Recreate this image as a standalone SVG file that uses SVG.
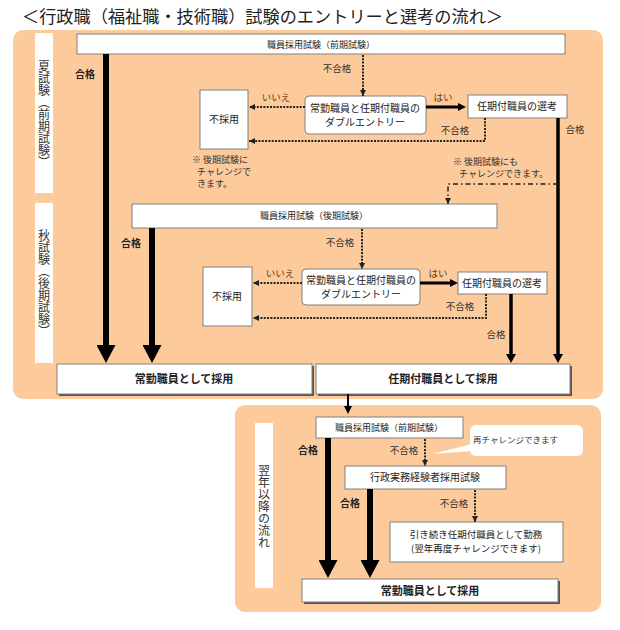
<svg xmlns="http://www.w3.org/2000/svg" width="620" height="630" viewBox="0 0 620 630">
<defs>
<style>
text{font-family:"Noto Sans CJK JP","Noto Sans",sans-serif;fill:#222}
.panel{fill:#FDCA9B}
.strip{fill:#fff}
.box{fill:#fff;stroke:#808080;stroke-width:1}
.shadow{fill:#555}
.t9{font-size:9px;text-anchor:middle}
.t10{font-size:10px;text-anchor:middle}
.tb{font-size:11px;font-weight:bold;text-anchor:middle}
.lbl{font-size:9.5px;text-anchor:middle;fill:#333}
.pass{font-size:10px;font-weight:bold;text-anchor:middle}
.yn{font-size:9.5px;text-anchor:middle;fill:#5a3a22}
.vert{font-size:12px;writing-mode:vertical-rl;text-anchor:middle;fill:#333}
.note{font-size:9px;fill:#333}
.big{stroke:#000;stroke-width:6;fill:none}
.mid{stroke:#000;stroke-width:3.5;fill:none}
.yes{stroke:#000;stroke-width:3;fill:none}
.dot{stroke:#222;stroke-width:2;stroke-dasharray:2 1.3;fill:none}
.dd{stroke:#222;stroke-width:1.5;stroke-dasharray:5 3 1.5 3;fill:none}
</style>
<marker id="mBig" markerUnits="userSpaceOnUse" markerWidth="19" markerHeight="18" viewBox="0 0 19 18" refX="9.5" refY="0" orient="0">
<path d="M0,0 L19,0 L9.5,18 Z" fill="#000"/>
</marker>
<marker id="mMid" markerUnits="userSpaceOnUse" markerWidth="10" markerHeight="9" viewBox="0 0 10 9" refX="5" refY="0" orient="0">
<path d="M0,0 L10,0 L5,9 Z" fill="#000"/>
</marker>
<marker id="mYes" markerUnits="userSpaceOnUse" markerWidth="8" markerHeight="8" viewBox="0 0 8 8" refX="0" refY="4" orient="auto">
<path d="M0,0 L8,4 L0,8 Z" fill="#000"/>
</marker>
<marker id="mDot" markerUnits="userSpaceOnUse" markerWidth="6" markerHeight="6" viewBox="0 0 6 6" refX="6" refY="3" orient="auto">
<path d="M0,0 L6,3 L0,6 Z" fill="#222"/>
</marker>
</defs>

<text x="22" y="23" style="font-size:17px" textLength="481" lengthAdjust="spacingAndGlyphs">＜行政職（福祉職・技術職）試験のエントリーと選考の流れ＞</text>

<g id="panels">
<rect class="panel" x="13" y="30" width="590" height="369" rx="10"/>
<rect class="panel" x="235" y="405" width="366" height="207" rx="10"/>
</g>

<g id="strip-summer">
<rect class="strip" x="35" y="33" width="18" height="160"/>
<text class="vert" x="44" y="114">夏試験（前期試験）</text>
</g>
<g id="strip-autumn">
<rect class="strip" x="35" y="203" width="18" height="160"/>
<text class="vert" x="44" y="283">秋試験（後期試験）</text>
</g>
<g id="strip-next">
<rect class="strip" x="255" y="423" width="18" height="165"/>
<text class="vert" x="264" y="506">翌年以降の流れ</text>
</g>

<g id="exam-early">
<rect class="box" x="77" y="34" width="488" height="20"/>
<text class="t9" x="321" y="47.5">職員採用試験（前期試験）</text>
</g>
<g id="reject1">
<rect class="box" x="200" y="90" width="48" height="59"/>
<text class="t10" x="224" y="123">不採用</text>
</g>
<g id="double1">
<rect class="box" x="305" y="96" width="121" height="38" rx="4"/>
<text class="t10" x="365" y="112">常勤職員と任期付職員の</text>
<text class="t10" x="365" y="126">ダブルエントリー</text>
</g>
<g id="select1">
<rect class="box" x="468" y="95" width="99" height="23"/>
<text class="t10" x="517" y="110">任期付職員の選考</text>
</g>
<g id="exam-late">
<rect class="box" x="132" y="204" width="365" height="24"/>
<text class="t9" x="314" y="219">職員採用試験（後期試験）</text>
</g>
<g id="reject2">
<rect class="box" x="203" y="267" width="49" height="59"/>
<text class="t10" x="227" y="300">不採用</text>
</g>
<g id="double2">
<rect class="box" x="302" y="269" width="118" height="36" rx="4"/>
<text class="t10" x="361" y="284">常勤職員と任期付職員の</text>
<text class="t10" x="361" y="298">ダブルエントリー</text>
</g>
<g id="select2">
<rect class="box" x="458" y="272" width="89" height="22"/>
<text class="t10" x="502" y="287">任期付職員の選考</text>
</g>
<g id="hire-regular">
<rect class="shadow" x="59" y="366" width="255" height="30"/>
<rect class="box" x="57" y="364" width="255" height="30"/>
<text class="tb" x="184" y="383">常勤職員として採用</text>
</g>
<g id="hire-fixed">
<rect class="shadow" x="318" y="366" width="254" height="30"/>
<rect class="box" x="316" y="364" width="254" height="30"/>
<text class="tb" x="443" y="383">任期付職員として採用</text>
</g>
<g id="exam-next">
<rect class="box" x="316" y="417" width="147" height="21"/>
<text class="t9" x="389" y="431">職員採用試験（前期試験）</text>
</g>
<g id="callout">
<rect x="470" y="425" width="113" height="31" rx="6" fill="#fff"/>
<path d="M472,444 L432,454 L472,451 Z" fill="#fff"/>
<text class="note" x="473" y="443" style="font-size:8.5px">再チャレンジできます</text>
</g>
<g id="exam-exp">
<rect class="box" x="345" y="466" width="161" height="23"/>
<text class="t10" x="425" y="481">行政実務経験者採用試験</text>
</g>
<g id="continue">
<rect class="box" x="390" y="522" width="173" height="40"/>
<text class="t9" x="476" y="538" style="font-size:9.5px">引き続き任期付職員として勤務</text>
<text class="t9" x="476" y="552" style="font-size:9.5px">(翌年再度チャレンジできます)</text>
</g>
<g id="hire-regular-next">
<rect class="shadow" x="304" y="581" width="256" height="23"/>
<rect class="box" x="302" y="579" width="256" height="23"/>
<text class="tb" x="430" y="595">常勤職員として採用</text>
</g>

<g id="connectors">
<line class="big" x1="106" y1="54" x2="106" y2="345" marker-end="url(#mBig)"/>
<line class="big" x1="152" y1="228" x2="152" y2="345" marker-end="url(#mBig)"/>
<line class="dot" x1="363" y1="55" x2="363" y2="96" marker-end="url(#mDot)"/>
<line class="dot" x1="305" y1="107" x2="249" y2="107" marker-end="url(#mDot)"/>
<polyline class="dot" points="485,118 485,141 249,141" marker-end="url(#mDot)"/>
<line class="yes" x1="426" y1="107" x2="458" y2="107" marker-end="url(#mYes)"/>
<line class="mid" x1="558" y1="118" x2="558" y2="354" marker-end="url(#mMid)"/>
<polyline class="dd" points="558,184 448,184 448,204" marker-end="url(#mDot)"/>
<line class="dot" x1="362" y1="229" x2="362" y2="269" marker-end="url(#mDot)"/>
<line class="dot" x1="302" y1="283" x2="253" y2="283" marker-end="url(#mDot)"/>
<polyline class="dot" points="486,294 486,318 253,318" marker-end="url(#mDot)"/>
<line class="yes" x1="420" y1="283" x2="450" y2="283" marker-end="url(#mYes)"/>
<line class="mid" x1="511" y1="294" x2="511" y2="354" marker-end="url(#mMid)"/>
<line stroke="#000" stroke-width="2" x1="348" y1="394" x2="348" y2="407"/>
<path d="M344,406 L352,406 L348,414 Z" fill="#000"/>
<line class="big" x1="328" y1="438" x2="328" y2="560" marker-end="url(#mBig)"/>
<line class="dot" x1="425" y1="439" x2="425" y2="466" marker-end="url(#mDot)"/>
<line class="big" x1="370" y1="489" x2="370" y2="560" marker-end="url(#mBig)"/>
<line class="dot" x1="475" y1="490" x2="475" y2="522" marker-end="url(#mDot)"/>
</g>

<g id="labels">
<text class="pass" x="85" y="78">合格</text>
<text class="pass" x="131" y="247">合格</text>
<text class="lbl" x="337" y="72">不合格</text>
<text class="yn" x="276" y="101">いいえ</text>
<text class="yn" x="443" y="101">はい</text>
<text class="lbl" x="455" y="134">不合格</text>
<text class="lbl" x="575" y="133">合格</text>
<text class="note" x="192" y="163">※ 後期試験に</text>
<text class="note" x="197" y="175">チャレンジで</text>
<text class="note" x="197" y="187">きます。</text>
<text class="note" x="453" y="165">※ 後期試験にも</text>
<text class="note" x="459" y="177">チャレンジできます。</text>
<text class="lbl" x="340" y="246">不合格</text>
<text class="yn" x="280" y="277">いいえ</text>
<text class="yn" x="438" y="277">はい</text>
<text class="lbl" x="460" y="310">不合格</text>
<text class="lbl" x="496" y="338">合格</text>
<text class="pass" x="308" y="454">合格</text>
<text class="lbl" x="404" y="454">不合格</text>
<text class="pass" x="350" y="507">合格</text>
<text class="lbl" x="454" y="507">不合格</text>
</g>
</svg>
